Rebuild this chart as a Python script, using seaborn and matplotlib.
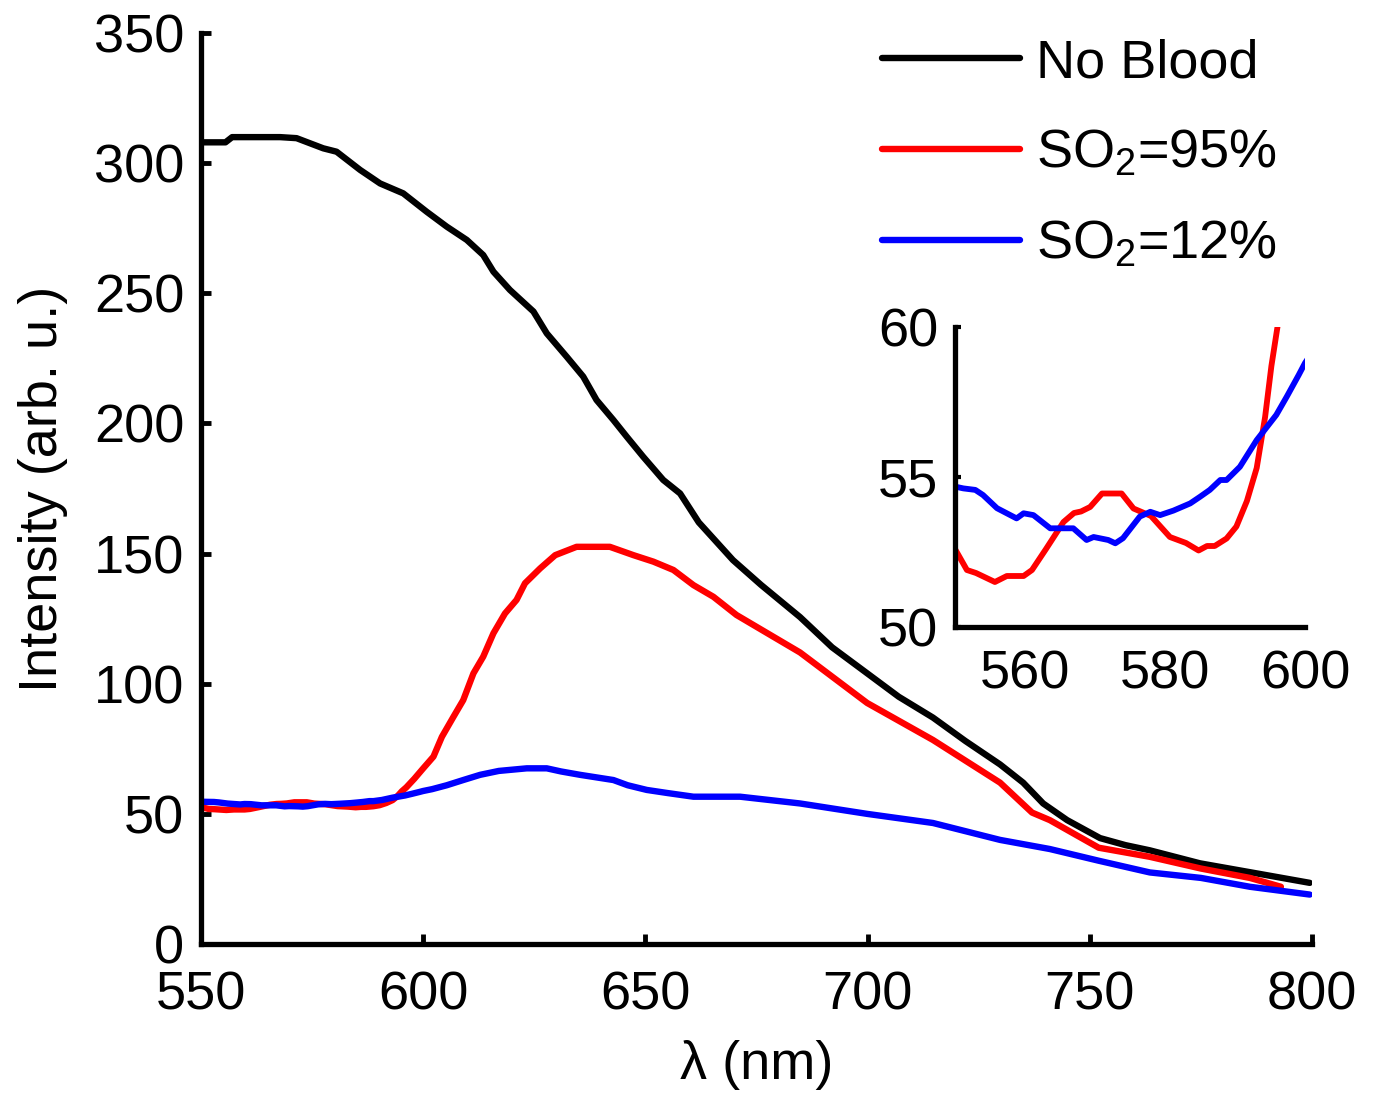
import numpy as np
import pandas as pd
import seaborn as sns
import matplotlib.pyplot as plt

# wavelengths (nm) and intensities (arb. u.)
wl_none = [550, 555.5, 557, 567.8, 571.5, 577.5, 580.5, 585.8, 590.3, 595.5,
           600.8, 605.3, 609.8, 613.5, 615.8, 619.5, 624.8, 627.8, 632.3, 636,
           639, 642.8, 645.8, 649.5, 654, 657.8, 662, 669.7, 676, 684.8,
           692, 699.9, 707, 714.7, 722, 729.8, 735, 739.5, 744.9, 752.3,
           758, 763.5, 774.8, 788, 799.5]
no_blood = [308, 308, 310, 310, 309.6, 305.7, 304.4, 297.4, 292.2, 288.4,
            281.3, 275.6, 270.5, 264.7, 258.3, 251.3, 243, 234.6, 225.6, 218,
            209, 201.3, 194.9, 187.2, 178.3, 173.1, 162, 147.5, 138, 125.6,
            114, 104, 95, 87, 78, 69, 62, 54, 47.6, 40.7,
            38, 36, 31, 27, 23.5]

wl_95 = [550, 551.7, 553, 555.7, 557.4, 559.8, 561, 563, 565.5, 567,
         568, 569.3, 571, 573.8, 575.5, 578, 580.7, 583, 584.8, 586,
         587.1, 588.8, 590.2, 591.7, 593.1, 594.3, 595.2, 596.2, 598, 600,
         602.3, 604.2, 606.8, 609, 611.3, 613.5, 615.8, 618.4, 621, 622.9,
         626.3, 629.7, 634.5, 642, 647.3, 651.8, 656.3, 660.8, 665.3, 670.5,
         684.8, 699.9, 714.7, 729.8, 737, 741, 752, 763.5, 775, 786, 793]
so2_95 = [52.6, 51.9, 51.8, 51.5, 51.7, 51.7, 51.9, 52.6, 53.5, 53.8,
          53.85, 54.0, 54.45, 54.45, 53.95, 53.7, 53.0, 52.8, 52.55, 52.7,
          52.7, 52.95, 53.35, 54.2, 55.3, 57.0, 58.7, 60.2, 63.5, 67.5,
          72, 79.6, 87.3, 93.7, 104, 110.4, 119.4, 127, 132.2, 138.6,
          144.3, 149.4, 152.6, 152.6, 149.4, 146.9, 143.7, 137.9, 133.4, 126.4,
          112, 92.6, 78.4, 62, 50.5, 47.6, 37, 33.5, 29, 25.4, 22]

wl_12 = [550, 551.2, 552.9, 554, 556, 558.8, 559.8, 561.2, 563.6, 566.9,
         568.8, 569.8, 571.9, 572.9, 574, 576.4, 577.9, 579.3, 581.2, 583.6,
         585, 586.4, 587.9, 588.8, 590.7, 593.1, 595.9, 597.4, 599.1, 600,
         602, 605.3, 609, 612.8, 617, 623.3, 627.8, 631, 635.3, 642.8,
         646, 650.3, 655, 660.8, 671.3, 684.8, 699.9, 714.7, 729.8, 741,
         752, 763.5, 775, 786, 799.5]
so2_12 = [54.68, 54.62, 54.57, 54.4, 53.96, 53.62, 53.79, 53.73, 53.29, 53.29,
          52.9, 53.0, 52.9, 52.79, 52.96, 53.68, 53.84, 53.73, 53.88, 54.12,
          54.34, 54.57, 54.9, 54.9, 55.34, 56.23, 57.07, 57.68, 58.4, 58.8,
          59.5, 61, 63, 65, 66.5, 67.5, 67.5, 66.3, 65, 63,
          61, 59.2, 58, 56.6, 56.6, 54, 50, 46.5, 40, 36.5,
          32, 27.5, 25.4, 22, 19]

labels = ["No Blood", "SO$_2$=95%", "SO$_2$=12%"]
colors = ["#000000", "#ff0000", "#0000ff"]

df = pd.concat([
    pd.DataFrame({"wl": wl_none, "I": no_blood, "s": labels[0]}),
    pd.DataFrame({"wl": wl_95, "I": so2_95, "s": labels[1]}),
    pd.DataFrame({"wl": wl_12, "I": so2_12, "s": labels[2]}),
])

sns.set_style("ticks")
plt.rcParams["font.family"] = ["Liberation Sans", "DejaVu Sans"]
plt.rcParams["mathtext.fontset"] = "custom"
plt.rcParams["mathtext.rm"] = "Liberation Sans"
plt.rcParams["mathtext.it"] = "Liberation Sans"
for k in ("text.color", "axes.labelcolor", "xtick.color", "ytick.color"):
    plt.rcParams[k] = "black"

FS = 39
fig = plt.figure(figsize=(13.76, 10.93), dpi=100)
ax = fig.add_axes([0.1461, 0.1363, 0.8074, 0.8335])

palette = dict(zip(labels, colors))
sns.lineplot(data=df, x="wl", y="I", hue="s", hue_order=labels, palette=palette,
             sort=False, estimator=None, lw=4.6, ax=ax)

ax.set_xlim(550, 800)
ax.set_ylim(0, 350)
ax.set_xticks(np.arange(550, 801, 50))
ax.set_yticks(np.arange(0, 351, 50))
sns.despine(ax=ax)
for sp in ("left", "bottom"):
    ax.spines[sp].set_linewidth(3.8)
    ax.spines[sp].set_color("black")
ax.tick_params(axis="both", direction="in", length=7, width=3.5, labelsize=FS)
ax.tick_params(axis="y", pad=12)
ax.tick_params(axis="x", pad=19)
ax.set_xlabel("λ (nm)", fontsize=FS, labelpad=14)
ax.set_ylabel("Intensity (arb. u.)", fontsize=FS, labelpad=19)

leg = ax.legend(frameon=False, fontsize=FS, loc="upper left",
                bbox_to_anchor=(882 / 1376, 1 - 38 / 1093), bbox_transform=fig.transFigure,
                borderpad=0, borderaxespad=0, handlelength=2.55, handletextpad=0.3,
                labelspacing=0.75)
for t in leg.get_texts():
    t.set_color("black")

# inset zoom on 550-600 nm
ins = fig.add_axes([955 / 1376, 1 - 627 / 1093, 350 / 1376, 300 / 1093])
sns.lineplot(data=df, x="wl", y="I", hue="s", hue_order=labels, palette=palette,
             sort=False, estimator=None, lw=4.2, ax=ins, legend=False)
ins.set_xlim(550, 600)
ins.set_ylim(50, 60)
ins.set_xticks([560, 580, 600])
ins.set_yticks([50, 55, 60])
sns.despine(ax=ins)
for sp in ("left", "bottom"):
    ins.spines[sp].set_linewidth(3.8)
    ins.spines[sp].set_color("black")
ins.tick_params(axis="y", direction="in", length=4, width=3, labelsize=FS, pad=12)
ins.tick_params(axis="x", direction="in", length=0, labelsize=FS, pad=16)
ins.set_xlabel("")
ins.set_ylabel("")
ins.patch.set_alpha(0)

fig.savefig("out.png", dpi=100)
